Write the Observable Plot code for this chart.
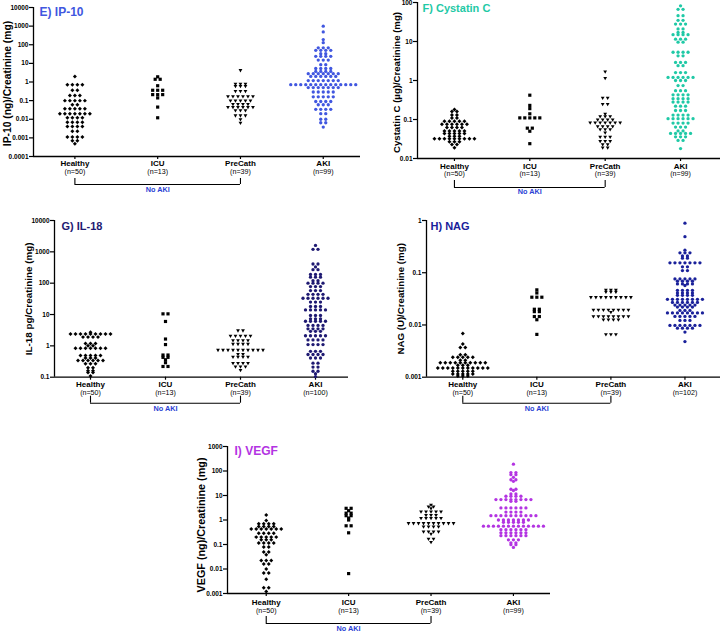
<!DOCTYPE html>
<html><head><meta charset="utf-8">
<script src="https://cdn.jsdelivr.net/npm/d3@7"></script>
<script src="https://cdn.jsdelivr.net/npm/@observablehq/plot@0.6"></script>
<style>
body{margin:0;background:#fff;}
#chart{position:relative;width:720px;height:633px;overflow:hidden;font-family:"Liberation Sans",Arial,sans-serif;}
#chart > div{position:absolute;}
</style></head><body><div id="chart"></div>
<script>
const groups = ["Healthy","ICU","PreCath","AKI"];

// rows of [value, count]
const ip10Healthy = [[2.0,1],[0.72,4],[0.36,2],[0.19,3],[0.1,5],[0.06,2],[0.037,5],[0.02,7],[0.012,4],[0.007,4],[0.0041,4],[0.0023,2],[0.0011,4],[0.0007,2],[0.00048,1]];
const ip10ICU = [[1.9,1],[1.4,2],[0.63,1],[0.36,3],[0.21,3],[0.14,1],[0.045,1],[0.012,1]];
const ip10PreCath = [[4.3,1],[0.8,3],[0.6,3],[0.33,3],[0.17,6],[0.1,5],[0.065,4],[0.045,6],[0.03,3],[0.016,3],[0.01,1],[0.0065,1]];
const ip10AKI = [[1000,1],[490,1],[190,1],[130,1],[68,3],[50,4],[33,2],[24,4],[15,3],[8.5,2],[5.3,4],[3.7,4],[2.8,7],[2.0,6],[1.2,7],[0.72,14],[0.5,7],[0.29,5],[0.16,5],[0.09,4],[0.06,3],[0.034,4],[0.02,2],[0.01,2],[0.0065,2],[0.0038,1]];

const cysHealthy = [[0.18,1],[0.16,2],[0.13,2],[0.11,2],[0.09,5],[0.075,6],[0.062,4],[0.051,5],[0.044,5],[0.037,3],[0.032,9],[0.027,3],[0.023,2],[0.019,1]];
const cysICU = [[0.42,1],[0.23,1],[0.19,1],[0.14,1],[0.11,5],[0.06,2],[0.05,1],[0.024,1]];
const cysPreCath = [[1.7,1],[1.15,1],[0.36,2],[0.25,2],[0.14,1],[0.12,3],[0.1,4],[0.083,7],[0.067,4],[0.056,3],[0.046,1],[0.036,3],[0.028,3],[0.023,2],[0.019,2]];
const cysAKI = [[82,1],[67,2],[46,2],[35,2],[28,3],[21,2],[17,2],[15,4],[11.5,3],[9.6,2],[5.3,4],[4.3,2],[2.9,3],[2.4,2],[1.6,3],[1.2,6],[1.0,3],[0.74,2],[0.55,3],[0.43,4],[0.34,4],[0.28,4],[0.22,3],[0.17,3],[0.13,4],[0.105,6],[0.081,4],[0.064,3],[0.051,2],[0.044,5],[0.036,3],[0.029,2],[0.018,1]];

const il18Healthy = [[2.7,1],[2.4,9],[1.9,4],[1.2,3],[1.0,2],[0.84,7],[0.49,5],[0.41,3],[0.34,6],[0.27,3],[0.2,2],[0.16,2],[0.14,2],[0.11,1]];
const il18ICU = [[10.5,2],[6,1],[1.65,1],[1.1,1],[0.51,2],[0.43,2],[0.36,1],[0.29,1],[0.22,2]];
const il18PreCath = [[3.1,2],[2.1,5],[1.5,4],[1.15,4],[0.74,10],[0.55,2],[0.45,4],[0.28,4],[0.22,3],[0.17,1]];
const il18AKI = [[1600,1],[1200,2],[410,2],[330,1],[270,2],[190,3],[155,3],[120,2],[100,4],[78,3],[58,3],[44,4],[33,6],[25,3],[18,3],[14,5],[9.3,3],[7.3,3],[6.1,5],[4.5,4],[3.5,4],[2.9,3],[2.1,5],[1.55,4],[1.1,4],[0.67,3],[0.53,4],[0.41,3],[0.28,2],[0.21,2],[0.155,2],[0.13,1],[0.105,1]];

const nagHealthy = [[0.0069,1],[0.0043,1],[0.0037,2],[0.0027,2],[0.0024,5],[0.0021,2],[0.0019,10],[0.0017,3],[0.0015,11],[0.0013,5],[0.00115,5],[0.00105,3]];
const nagICU = [[0.047,1],[0.041,1],[0.034,3],[0.02,2],[0.018,2],[0.0145,2],[0.0126,1],[0.0066,1]];
const nagPreCath = [[0.047,3],[0.043,3],[0.034,9],[0.0195,8],[0.0177,1],[0.0147,8],[0.0127,4],[0.0066,3]];
const nagAKI = [[0.89,1],[0.49,1],[0.27,1],[0.24,3],[0.21,2],[0.19,2],[0.155,7],[0.13,2],[0.11,2],[0.076,5],[0.069,4],[0.061,4],[0.057,1],[0.046,4],[0.041,4],[0.037,4],[0.031,8],[0.027,6],[0.024,5],[0.022,4],[0.019,3],[0.017,8],[0.0146,5],[0.0122,3],[0.0098,7],[0.0087,4],[0.0073,1],[0.0048,1]];

const vegfHealthy = [[1.6,1],[0.95,1],[0.7,4],[0.54,4],[0.43,7],[0.29,4],[0.2,5],[0.155,3],[0.114,4],[0.079,2],[0.049,2],[0.038,1],[0.022,3],[0.016,2],[0.01,1],[0.0069,2],[0.0038,1],[0.0017,2],[0.0012,1]];
const vegfICU = [[3.0,2],[2.4,1],[1.9,2],[1.5,2],[1.2,1],[1.0,1],[0.58,2],[0.3,1],[0.0065,1]];
const vegfPreCath = [[4.2,1],[3.5,2],[3.0,1],[2.2,5],[1.6,3],[1.2,5],[0.74,10],[0.54,4],[0.34,4],[0.27,1],[0.17,2],[0.126,1]];
const vegfAKI = [[190,1],[86,2],[71,2],[55,1],[44,2],[38,1],[18,2],[16,1],[11.5,2],[9.3,4],[6.8,8],[5.8,2],[3.1,6],[2.1,4],[1.5,10],[1.0,7],[0.81,5],[0.56,13],[0.4,6],[0.3,6],[0.23,6],[0.155,3],[0.117,2],[0.098,2],[0.076,1]];

// tick labels
const ticksE = [0.0001,0.001,0.01,0.1,1,10,100,1000,10000];
const ticksF = [0.01,0.1,1,10,100];
const ticksG = [0.1,1,10,100,1000,10000];
const ticksH = [0.001,0.01,0.1,1];
const ticksI = [0.001,0.01,0.1,1,10,100,1000];
const nE = ["(n=50)","(n=13)","(n=39)","(n=99)"];
const nF = ["(n=50)","(n=13)","(n=39)","(n=99)"];
const nG = ["(n=50)","(n=13)","(n=39)","(n=100)"];
const nH = ["(n=50)","(n=13)","(n=39)","(n=102)"];
const nI = ["(n=50)","(n=13)","(n=39)","(n=99)"];

const panels = [
  {left:0, top:0, width:362, height:200, ml:33, mt:7, mr:2, mb:44, xd:[-0.5,3.45], ticks:ticksE, ns:nE,
   rows:[ip10Healthy, ip10ICU, ip10PreCath, ip10AKI], color:"#4157e0", title:"E) IP-10", tfs:12, tdx:6, tdy:0,
   ylabel:"IP-10 (ng)/Creatinine (mg)", yfs:10.3, ydx:-25.5, ydy:1.5, tp:1, nDy:17.5, bTop:22, bBot:28, naDy:35},
  {left:360, top:0, width:360, height:200, ml:57, mt:2, mr:0, mb:42, xd:[-0.49,3.53], ticks:ticksF, ns:nF,
   rows:[cysHealthy, cysICU, cysPreCath, cysAKI], color:"#1fc9a6", title:"F) Cystatin C", tfs:11, tdx:5, tdy:2,
   ylabel:"Cystatin C (µg)/Creatinine (mg)", yfs:9.6, ydx:-20.5, ydy:2, tp:1.5, nDy:17.5, bTop:22, bBot:29, naDy:35},
  {left:0, top:200, width:360, height:230, ml:54, mt:20, mr:12, mb:53.3, xd:[-0.48,3.44], ticks:ticksG, ns:nG,
   rows:[il18Healthy, il18ICU, il18PreCath, il18AKI], color:"#1f1a72", title:"G) IL-18", tfs:11, tdx:7, tdy:1.5,
   ylabel:"IL-18 pg/Creatinine (mg)", yfs:9.9, ydx:-26, ydy:0, tp:1, nDy:17.5, bTop:19, bBot:26, naDy:34},
  {left:360, top:200, width:360, height:230, ml:66, mt:20, mr:0, mb:53.3, xd:[-0.49,3.48], ticks:ticksH, ns:nH,
   rows:[nagHealthy, nagICU, nagPreCath, nagAKI], color:"#1a219a", title:"H) NAG", tfs:11, tdx:4, tdy:1.5,
   ylabel:"NAG (U)/Creatinine (mg)", yfs:9.7, ydx:-26, ydy:0, tp:1, nDy:17.5, bTop:19, bBot:26, naDy:34},
  {left:190, top:420, width:370, height:213, ml:37, mt:26, mr:10, mb:40, xd:[-0.47,3.45], ticks:ticksI, ns:nI,
   rows:[vegfHealthy, vegfICU, vegfPreCath, vegfAKI], color:"#b334e2", title:"I) VEGF", tfs:12, tdx:7, tdy:0,
   ylabel:"VEGF (ng)/Creatinine (mg)", yfs:10.8, ydx:-25.5, ydy:5, tp:2.5, nDy:19, bTop:23, bBot:30, naDy:37}
];

const fmt = d => String(d);
const syms = ["diamond2","square","triangle2","circle"];

function drawPanel(p) {
  const fw = p.width - p.ml - p.mr;
  const unit = fw / (p.xd[1] - p.xd[0]);
  const sp = 5.0 / unit;
  const pts = [];
  p.rows.forEach((rows, gi) => {
    rows.forEach(([v, c]) => {
      for (let j = 0; j < c; j++) pts.push({g: gi, v, x: gi + (j - (c - 1) / 2) * sp});
    });
  });
  const yMin = p.ticks[0], yMax = p.ticks[p.ticks.length - 1];
  const marks = [
    Plot.ruleX([p.xd[0]], {stroke: "#000", strokeWidth: 1.3}),
    Plot.ruleY([yMin], {stroke: "#000", strokeWidth: 1.3}),
    Plot.axisY({ticks: p.ticks, tickFormat: fmt, tickSize: 4, tickPadding: 1, fontSize: 6.5, fontWeight: "bold", label: null, strokeWidth: 1.2}),
    Plot.axisX({ticks: [0,1,2,3], tickFormat: i => groups[i], tickSize: 3, tickPadding: p.tp, fontSize: 8, fontWeight: "bold", label: null, strokeWidth: 1.2}),
    Plot.text(p.ns, {x: (d, i) => i, text: d => d, frameAnchor: "bottom", dy: p.nDy, fontSize: 7.1}),
    ...groups.map((g, gi) => Plot.dot(pts.filter(d => d.g === gi), {
      x: "x", y: "v", symbol: syms[gi], r: gi === 3 ? 1.65 : 1.8,
      fill: gi === 3 ? p.color : "#000", stroke: "none", rotate: gi === 2 ? 180 : 0
    })),
    Plot.ruleX([0, 2], {y1: yMin, y2: yMin, insetTop: p.bTop, insetBottom: -p.bBot, stroke: "#000", strokeWidth: 1.1}),
    Plot.ruleY([yMin], {x1: 0, x2: 2, dy: p.bBot, stroke: "#000", strokeWidth: 1.1}),
    Plot.text(["No AKI"], {x: 1, frameAnchor: "bottom", dy: p.naDy, fill: "#2b3fd4", fontWeight: "bold", fontSize: 7.3}),
    Plot.text([p.title], {frameAnchor: "top-left", dx: p.tdx, dy: p.tdy, fill: p.color, fontWeight: "bold", fontSize: p.tfs}),
    Plot.text([p.ylabel], {frameAnchor: "left", textAnchor: "middle", lineAnchor: "middle", rotate: -90, dx: p.ydx, dy: p.ydy, fontWeight: "bold", fontSize: p.yfs})
  ];
  const svg = Plot.plot({
    width: p.width, height: p.height,
    marginLeft: p.ml, marginTop: p.mt, marginRight: p.mr, marginBottom: p.mb,
    x: {domain: p.xd, axis: null},
    y: {type: "log", domain: [yMin, yMax], axis: null},
    style: {background: "none", overflow: "visible", fontFamily: "'Liberation Sans', Arial, sans-serif", color: "#000"},
    marks
  });
  const wrap = document.createElement("div");
  wrap.style.left = p.left + "px";
  wrap.style.top = p.top + "px";
  wrap.appendChild(svg);
  document.getElementById("chart").appendChild(wrap);
}
panels.forEach(drawPanel);
</script>
</body></html>
